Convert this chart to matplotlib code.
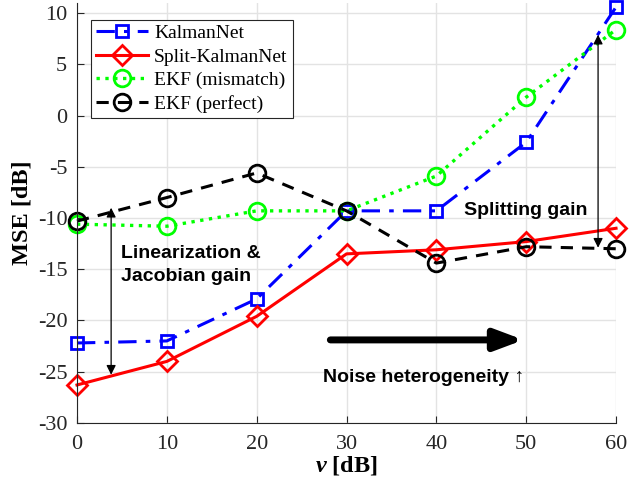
import matplotlib.pyplot as plt

# Valores (MSE em dB)
nu_db = [0, 10, 20, 30, 40, 50, 60]
kalmannet = [-22.2, -22.0, -17.9, -9.3, -9.3, -2.6, 10.6]
split_kalmannet = [-26.3, -24.0, -19.6, -13.5, -13.1, -12.3, -11.0]
ekf_mismatch = [-10.6, -10.8, -9.3, -9.3, -5.9, 1.8, 8.4]
ekf_perfect = [-10.3, -8.0, -5.6, -9.3, -14.4, -12.8, -13.0]

xticks = [0, 10, 20, 30, 40, 50, 60]
yticks = [-30, -25, -20, -15, -10, -5, 0, 5, 10]

plt.rcParams['axes.unicode_minus'] = False
plt.rcParams['mathtext.fontset'] = 'custom'
plt.rcParams['mathtext.rm'] = 'Liberation Serif'
plt.rcParams['mathtext.it'] = 'Liberation Serif:italic'
plt.rcParams['mathtext.bf'] = 'Liberation Serif:bold:italic'

fig = plt.figure(figsize=(6.29, 4.9), dpi=100)
ax = fig.add_axes([0.1224, 0.137, 0.857, 0.857])

serif = 'Liberation Serif'
sans = 'Liberation Sans'

ax.plot(nu_db, kalmannet, color='#0000ff', linestyle='-.', linewidth=2.2,
        marker='s', markersize=9, markerfacecolor='none', markeredgewidth=2,
        label='KalmanNet', dashes=(6, 3, 1.5, 3), clip_on=False)
ax.plot(nu_db, split_kalmannet, color='#ff0000', linestyle='-', linewidth=2.2,
        marker='D', markersize=10, markerfacecolor='none', markeredgewidth=2,
        label='Split-KalmanNet', clip_on=False)
ax.plot(nu_db, ekf_mismatch, color='#00ff00', linestyle=':', linewidth=2.4,
        marker='o', markersize=12, markerfacecolor='none', markeredgewidth=2,
        label='EKF (mismatch)', clip_on=False)
ax.plot(nu_db, ekf_perfect, color='black', linestyle='--', linewidth=2.2,
        marker='o', markersize=12, markerfacecolor='none', markeredgewidth=2,
        label='EKF (perfect)', dashes=(4, 3), clip_on=False)

# Anotações
ax.annotate('', xy=(3.8, -25.3), xytext=(3.8, -9.0),
            arrowprops=dict(arrowstyle='<|-|>', color='black', lw=0.9,
                            mutation_scale=14, shrinkA=0, shrinkB=0))
ax.text(4.9, -14.6, 'Linearization &\nJacobian gain', fontsize=14,
        fontweight='bold', family=sans, va='center', ha='left', linespacing=1.45)

ax.annotate('', xy=(58.0, -12.9), xytext=(58.0, 7.9),
            arrowprops=dict(arrowstyle='<|-|>', color='black', lw=0.9,
                            mutation_scale=14, shrinkA=0, shrinkB=0))
ax.text(50.0, -9.3, 'Splitting gain', fontsize=14, fontweight='bold',
        family=sans, va='center', ha='center')

ax.annotate('', xy=(49.7, -21.9), xytext=(28.2, -21.9),
            arrowprops=dict(arrowstyle='-|>,head_length=1.2,head_width=0.45',
                            color='black', lw=5, mutation_scale=14,
                            shrinkA=0, shrinkB=0))
ax.text(38.6, -25.6, 'Noise heterogeneity \u2191', fontsize=14,
        fontweight='bold', family=sans, va='center', ha='center')

ax.set_xlim(0, 60)
ax.set_ylim(-30, 11)
ax.set_xticks(xticks)
ax.set_yticks(yticks)
ax.tick_params(direction='in', length=5, labelsize=16, colors='#262626',
               top=False, right=False)
ax.tick_params(axis='x', pad=9)
ax.tick_params(axis='y', pad=7)
for lbl in ax.get_xticklabels() + ax.get_yticklabels():
    lbl.set_family(serif)
ax.grid(True, color='#e3e3e3', linewidth=1)
ax.set_axisbelow(True)
ax.spines['top'].set_visible(False)
ax.spines['right'].set_visible(False)
ax.spines['left'].set_color('#262626')
ax.spines['bottom'].set_color('#262626')

ax.set_xlabel(r'$\mathbf{\nu}$ [dB]', fontsize=17.5, fontweight='bold',
              family=serif, labelpad=0)
ax.set_ylabel('MSE [dB]', fontsize=17.5, fontweight='bold', family=serif,
              labelpad=4)

leg = ax.legend(loc='upper left', bbox_to_anchor=(0.026, 0.96),
                prop={'family': serif, 'size': 14}, fancybox=False,
                edgecolor='#262626', framealpha=1, handlelength=2.7,
                borderpad=0.25, labelspacing=0.3, handletextpad=0.3,
                borderaxespad=0)
leg.get_frame().set_linewidth(0.8)

plt.savefig('out.png', dpi=100, facecolor='white')
plt.close()
